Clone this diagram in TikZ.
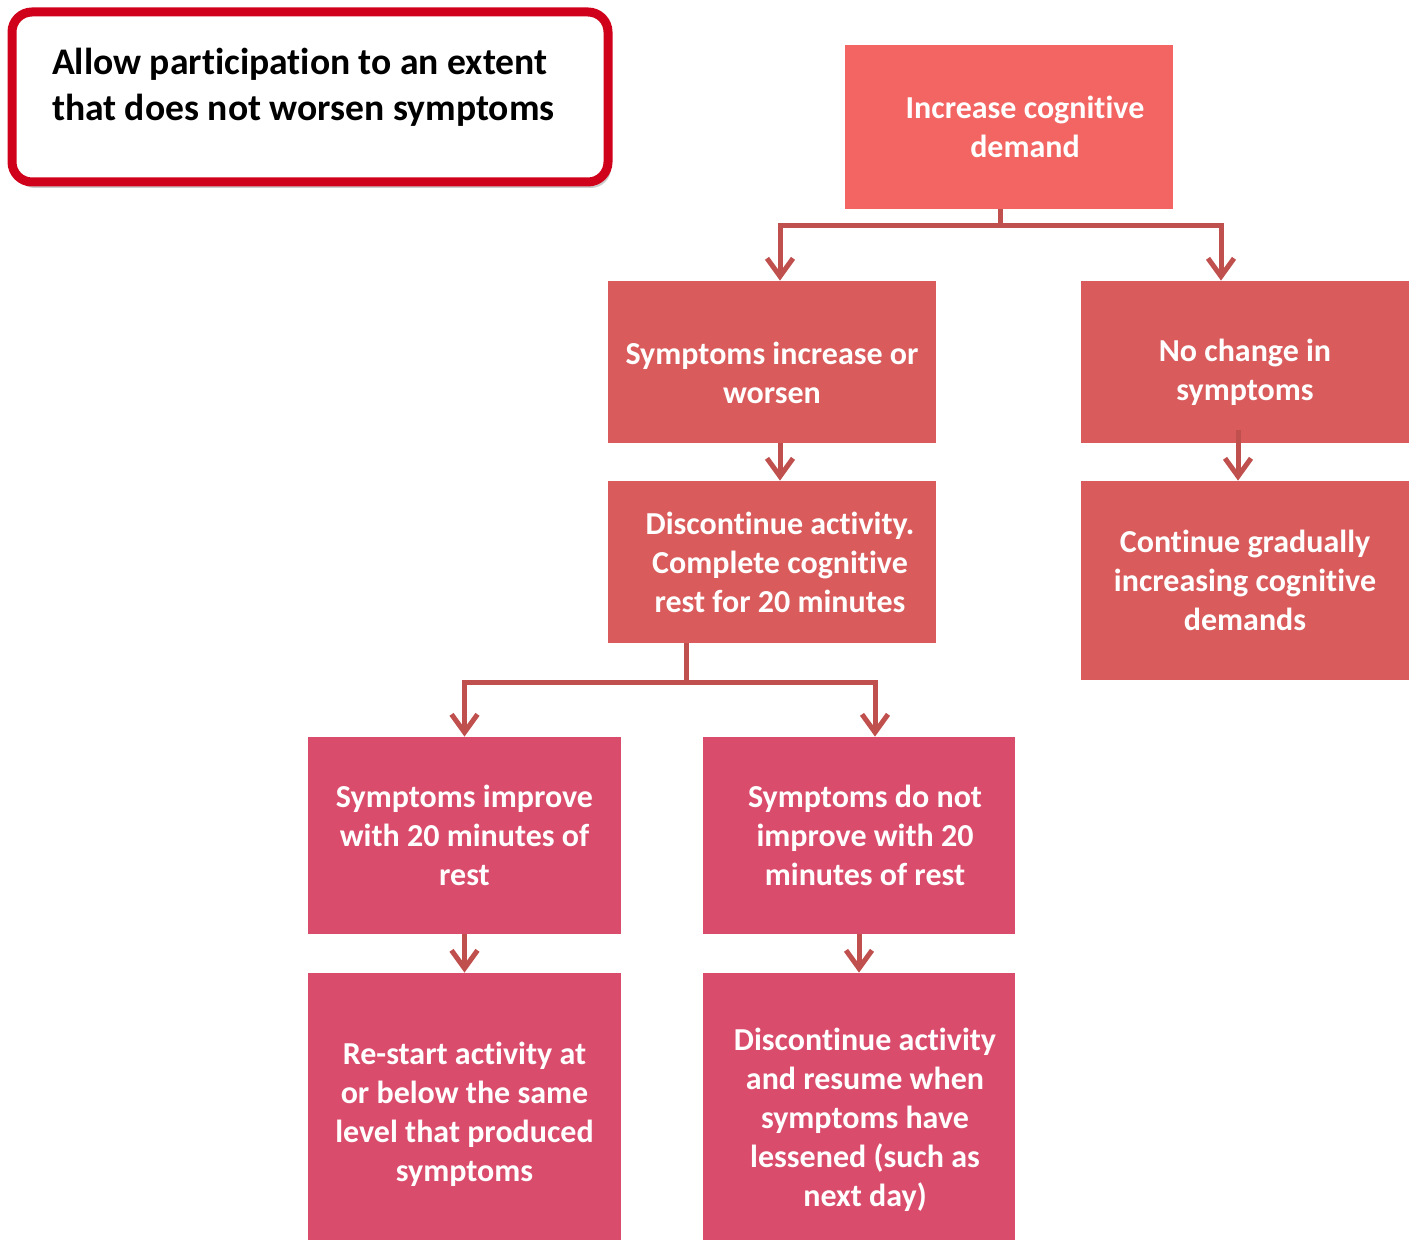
\documentclass[tikz,border=0pt]{standalone}
\usepackage{fontspec}
\setmainfont{Carlito}[RawFeature={-liga;-clig;-calt;-dlig}]
\usetikzlibrary{arrows.meta,calc,shadows}
\definecolor{notered}{RGB}{208,2,27}
\definecolor{toprose}{RGB}{242,101,99}
\definecolor{midrose}{RGB}{217,91,91}
\definecolor{lowrose}{RGB}{218,76,108}
\definecolor{linkred}{RGB}{192,80,77}

\begin{document}
\begin{tikzpicture}[x=.5pt,y=-.5pt,box/.style={fill=#1,text=white,font=\bfseries\fontsize{16}{19.5}\selectfont,align=center,inner sep=0pt},link/.style={draw=linkred,line width=2.5pt},arr/.style={link,-{Straight Barb[length=9pt,width=13pt,line width=2.5pt]}}]
\useasboundingbox (0,0) rectangle (1413,1240);

% Reminder box in the corner
\node[draw=notered,line width=4.5pt,rounded corners=10pt,fill=white,drop shadow={shadow xshift=1.5pt,shadow yshift=-3pt,opacity=.4},minimum width=298pt,minimum height=85pt,inner sep=0pt,font=\bfseries\fontsize{18.8}{23}\selectfont] (note) at(310,97) {\raisebox{5pt}[\height][\depth]{\parbox{258pt}{\raggedright Allow participation to an extent\\that does not worsen symptoms}}};

% Upper branch
\node[box=toprose,minimum width=164pt,minimum height=82pt] (top) at(1009,127) {\hspace*{16pt}Increase cognitive\\\hspace*{16pt}demand};
\node[box=midrose,minimum width=164pt,minimum height=81pt] (worse) at(772,362) {\rule{0pt}{22pt}Symptoms increase or\\worsen};
\node[box=midrose,minimum width=164pt,minimum height=81pt] (nochange) at(1245,362) {\rule{0pt}{22pt}No change in\\symptoms};
\node[box=midrose,minimum width=164pt,minimum height=81pt] (rest) at(772,562) {\hspace*{8pt}Discontinue activity.\\\hspace*{8pt}Complete cognitive\\\hspace*{8pt}rest for 20 minutes};
\node[box=midrose,minimum width=164pt,minimum height=99.5pt] (cont) at(1245,580.5) {Continue gradually\\increasing cognitive\\demands};

% Lower branch
\node[box=lowrose,minimum width=156.5pt,minimum height=98.5pt] (improve) at(464.5,835.5) {Symptoms improve\\with 20 minutes of\\rest};
\node[box=lowrose,minimum width=156pt,minimum height=98.5pt] (noimprove) at(859,835.5) {\hspace*{6pt}Symptoms do not\\\hspace*{6pt}improve with 20\\\hspace*{6pt}minutes of rest};
\node[box=lowrose,minimum width=156.5pt,minimum height=141pt] (restart) at(464.5,1114) {Re-start activity at\\or below the same\\level that produced\\symptoms};
\node[box=lowrose,minimum width=156pt,minimum height=147pt] (resume) at(859,1120) {\hspace*{6pt}Discontinue activity\\\hspace*{6pt}and resume when\\\hspace*{6pt}symptoms have\\\hspace*{6pt}lessened (such as\\\hspace*{6pt}next day)};

% Connectors
\coordinate (fork1) at ($(top.south)+(-9,16)$);
\draw[link] (top.south -| fork1) -- (fork1);
\draw[arr] (fork1) -| ($(worse.north)+(8,0)$);
\draw[arr] (fork1) -| ($(nochange.north)+(-24,0)$);
\draw[arr] ($(worse.south)+(8,0)$) -- ($(rest.north)+(8,0)$);
\draw[arr] ($(nochange.south)+(-7,-13)$) -- ($(cont.north)+(-7,0)$);
\coordinate (fork2) at ($(rest.south)+(-86,39)$);
\draw[link] (rest.south -| fork2) -- (fork2);
\draw[arr] (fork2) -| (improve.north);
\draw[arr] (fork2) -| ($(noimprove.north)+(16,0)$);
\draw[arr] (improve.south) -- (restart.north);
\draw[arr] (noimprove.south) -- (resume.north);
\end{tikzpicture}
\end{document}
